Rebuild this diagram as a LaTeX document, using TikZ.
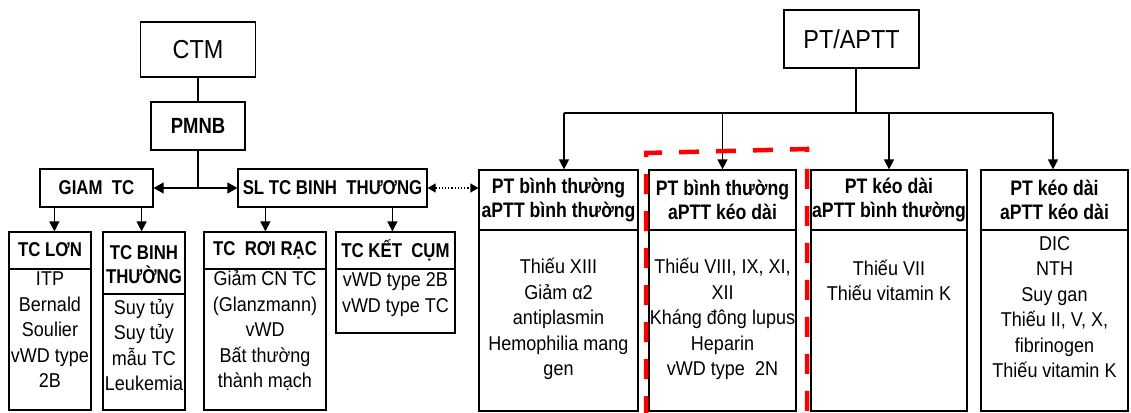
\documentclass[tikz,border=0pt]{standalone}
\usepackage{fontspec}
\setmainfont{Liberation Sans}
\newfontfamily\bodyf{Liberation Sans}[FakeStretch=0.9]
\newfontfamily\headf{Liberation Sans}[FakeStretch=0.84]
\newfontfamily\titlef{Liberation Sans}[FakeStretch=0.9]
\usetikzlibrary{arrows.meta}
\begin{document}
\begin{tikzpicture}[x=1pt,y=-1pt,
  box/.style={draw=black, line width=1.2pt, rectangle, inner sep=0pt},
  ttl/.style={font=\titlef\fontsize{26}{30}\selectfont},
  hdl/.style={font=\headf\bfseries\fontsize{20}{24}\selectfont, align=center, inner sep=0pt},
  hdr/.style={font=\headf\bfseries\fontsize{21}{24.5}\selectfont, align=center, inner sep=0pt},
  bod/.style={font=\bodyf\fontsize{20}{25.5}\selectfont, align=center, inner sep=0pt},
  conn/.style={line width=1.2pt},
  arr/.style={conn, -{Triangle[length=10pt,width=10pt]}},
  arrb/.style={conn, -{Triangle[length=10pt,width=11pt]}},
  dotarr/.style={conn, dotted, {Triangle[length=8pt,width=9pt]}-{Triangle[length=8pt,width=9pt]}},
  hl/.style={red, line width=4.5pt, dash pattern=on 20pt off 17pt}
]
\fill[white] (0,0) rectangle (1131,412);
\useasboundingbox (0,0) rectangle (1131,412);

% ---------- left tree ----------
\node[box, ttl, minimum width=115pt, minimum height=55pt] (ctm) at (198,49.5) {CTM};
\node[box, hdl, font=\headf\bfseries\fontsize{22}{24}\selectfont, minimum width=94pt, minimum height=48pt] (pmnb) at (198,126) {PMNB};
\node[box, hdl, minimum width=113pt, minimum height=38pt] (giam) at (96.5,188) {GIAM\ \ TC};
\node[box, hdl, minimum width=189pt, minimum height=38pt] (sl) at (332.5,188) {SL TC BINH\ \ THƯƠNG};

\draw[conn] (ctm.south) -- (pmnb.north);
\coordinate (j) at (pmnb.south |- giam.east);
\draw[conn] (pmnb.south) -- (j);
\draw[arrb] (j) -- (giam.east);
\draw[arrb] (j) -- (sl.west);

% bottom-left boxes
\node[box, minimum width=82pt, minimum height=178pt] (lon) at (50,321) {};
\draw[conn] (9,269) -- (91,269);
\node[hdl] (lonh) at (50,250) {TC LƠN};
\node[bod] (lonb) at (50,330) {ITP\\Bernald\\Soulier\\vWD type\\2B};

\node[box, minimum width=82pt, minimum height=178pt] (binh) at (144,321) {};
\draw[conn] (103,294) -- (185,294);
\node[hdl] (binhh) at (144,265) {TC BINH\\THƯỜNG};
\node[bod] (binhb) at (144,345) {Suy tủy\\Suy tủy\\mẫu TC\\Leukemia};

\node[box, minimum width=122pt, minimum height=178pt] (roi) at (265,321) {};
\draw[conn] (204,269) -- (326,269);
\node[hdl] (roih) at (265,250) {TC\ \ RƠI RẠC};
\node[bod] (roib) at (265,331) {Giảm CN TC\\(Glanzmann)\\vWD\\Bất thường\\thành mạch};

\node[box, minimum width=119pt, minimum height=101pt] (ket) at (395.5,282.5) {};
\draw[conn] (336,269) -- (455,269);
\node[hdl] (keth) at (395.5,250) {TC KẾT\ \ CỤM};
\node[bod] (ketb) at (395.5,294.5) {vWD type 2B\\vWD type TC};

\draw[arr] ([xshift=15pt]giam.south west) -- ([xshift=15pt]giam.south west |- lon.north);
\draw[arr] ([xshift=-12pt]giam.south east) -- ([xshift=-12pt]giam.south east |- binh.north);
\draw[arr] ([xshift=28pt]sl.south west) -- ([xshift=28pt]sl.south west |- roi.north);
\draw[arr] ([xshift=155pt]sl.south west) -- ([xshift=155pt]sl.south west |- ket.north);

% ---------- right tree ----------
\node[box, ttl, minimum width=135pt, minimum height=58pt] (pt) at (851.5,39) {PT/APTT};

\node[box, minimum width=159pt, minimum height=241pt] (p1) at (558.5,290.5) {};
\node[box, minimum width=147pt, minimum height=241pt] (p2) at (722.5,290.5) {};
\node[box, minimum width=156pt, minimum height=241pt] (p3) at (889,290.5) {};
\node[box, minimum width=147pt, minimum height=241pt] (p4) at (1054.5,290.5) {};
\draw[conn] (p1.west |- 0,230) -- (p1.east |- 0,230);
\draw[conn] (p2.west |- 0,230) -- (p2.east |- 0,230);
\draw[conn] (p3.west |- 0,230) -- (p3.east |- 0,230);
\draw[conn] (p4.west |- 0,230) -- (p4.east |- 0,230);

\node[hdr] (p1h) at (558.5,200) {PT bình thường\\aPTT bình thường};
\node[hdr] (p2h) at (722.5,200) {PT bình thường\\aPTT kéo dài};
\node[hdr] (p3h) at (889,200) {PT kéo dài\\aPTT bình thường};
\node[hdr] (p4h) at (1054.5,200) {PT kéo dài\\aPTT kéo dài};

\node[bod] (p1b) at (558.5,319) {Thiếu XIII\\Giảm α2\\antiplasmin\\Hemophilia mang\\gen};
\node[bod] (p2b) at (722.5,319) {Thiếu VIII,\ IX,\ XI,\\XII\\Kháng đông lupus\\Heparin\\vWD type\ \ 2N};
\node[bod] (p3b) at (889,280.5) {Thiếu VII\\Thiếu vitamin K};
\node[bod] (p4b) at (1054.5,307) {DIC\\NTH\\Suy gan\\Thiếu II, V, X,\\fibrinogen\\Thiếu vitamin K};

\coordinate (busL) at (564,113);
\coordinate (busR) at (1053,113);
\draw[conn] ([xshift=4.5pt]pt.south) -- ([xshift=4.5pt]pt.south |- busL);
\draw[conn] (busL) -- (busR);
\draw[arr] (busL) -- (busL |- p1.north);
\draw[arr] (p2.north |- busL) -- (p2.north);
\draw[arr] (p3.north |- busL) -- (p3.north);
\draw[arr] (busR) -- (busR |- p4.north);

% dotted link
\draw[dotarr] (sl.east) -- (sl.east -| p1.west);

% red highlight
\draw[hl] (646,416) -- (646,153) -- (807,149) -- (807,416);
\end{tikzpicture}
\end{document}
